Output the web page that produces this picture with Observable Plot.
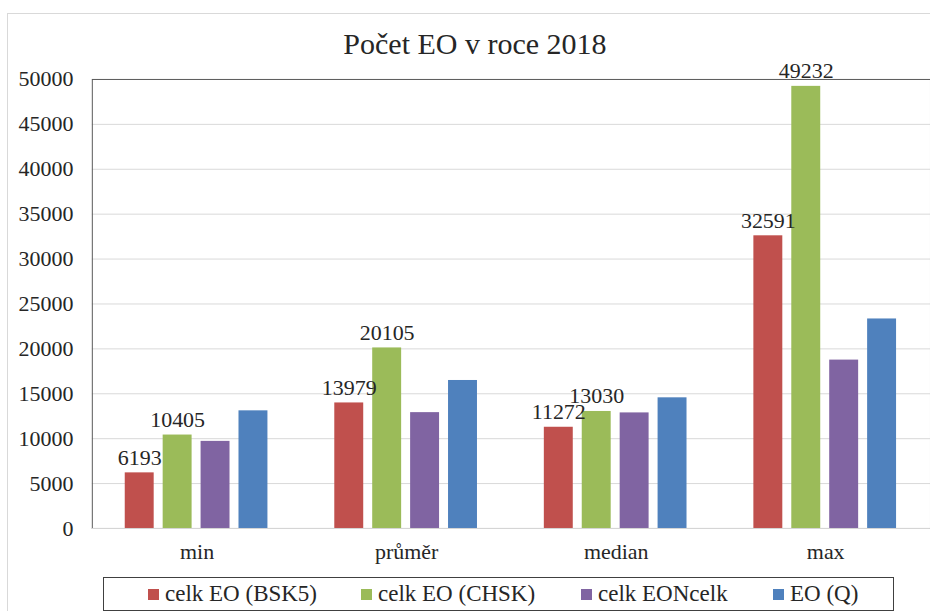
<!DOCTYPE html>
<html>
<head>
<meta charset="utf-8">
<script src="https://cdn.jsdelivr.net/npm/d3@7"></script>
<script src="https://cdn.jsdelivr.net/npm/@observablehq/plot@0.6"></script>
<style>
  html, body { margin: 0; padding: 0; background: #fff; }
  #wrap { position: relative; width: 930px; height: 611px; overflow: hidden; font-family: "Liberation Serif", "Times New Roman", serif; color: #262626; }
  #outer { position: absolute; left: 7px; top: 13px; width: 940px; height: 620px; border: 1px solid #d9d9d9; box-sizing: border-box; }
  #title { position: absolute; left: 0; width: 950px; top: 29px; text-align: center; font-size: 30px; line-height: 1; }
  .layer { position: absolute; left: 0; top: 60px; }
  #legend { position: absolute; left: 103px; top: 577px; width: 791px; height: 34px; border: 1px solid #404040; box-sizing: border-box; }
  .item { position: absolute; top: 0; height: 32px; display: flex; align-items: center; font-size: 23px; white-space: nowrap; }
  .sw { width: 11px; height: 11px; margin-right: 6px; }
</style>
</head>
<body>
<div id="wrap">
  <div id="outer"></div>
  <div id="title">Počet EO v roce 2018</div>
  <div id="back" class="layer"></div>
  <div id="front" class="layer"></div>
  <div id="legend"></div>
</div>
<script>
const categories = ["min", "průměr", "median", "max"];
const series = ["celk EO (BSK5)", "celk EO (CHSK)", "celk EONcelk", "EO (Q)"];
const bsk5 = [6193, 13979, 11272, 32591];
const chsk = [10405, 20105, 13030, 49232];
const eoncelk = [9700, 12900, 12870, 18750];
const eoq = [13100, 16480, 14550, 23330];
const labeledSeries = ["celk EO (BSK5)", "celk EO (CHSK)"];
const yTicks = [0, 5000, 10000, 15000, 20000, 25000, 30000, 35000, 40000, 45000, 50000];
const colors = ["#C0504D", "#9BBB59", "#8064A2", "#4F81BD"];
const legendLeft = [44, 257, 477, 669];

const valuesBySeries = [bsk5, chsk, eoncelk, eoq];
const data = categories.flatMap((c, i) => series.map((s, j) => ({category: c, series: s, value: valuesBySeries[j][i]})));

const common = {
  width: 932,
  height: 510,
  marginLeft: 92,
  marginRight: 0,
  marginTop: 19,
  marginBottom: 41,
  style: {fontFamily: "'Liberation Serif', 'Times New Roman', serif", fontSize: "22px", color: "#262626", background: "transparent", overflow: "visible"}
};
const groupPadding = {paddingInner: 0.314, paddingOuter: 0.157};

// Background: grid, plot border, y axis, category labels
const back = Plot.plot({
  ...common,
  x: {domain: categories, ...groupPadding, label: null},
  y: {domain: [0, 50000], label: null},
  marks: [
    Plot.gridY(yTicks, {stroke: "#d9d9d9", strokeOpacity: 1}),
    Plot.frame({stroke: "#595959"}),
    Plot.ruleY([0], {stroke: "#d9d9d9"}),
    Plot.axisY(yTicks, {tickSize: 0, tickPadding: 19, tickFormat: d3.format("d"), label: null}),
    Plot.axisX({anchor: "bottom", tickSize: 0, tickPadding: 15, label: null})
  ]
});
document.getElementById("back").appendChild(back);

// Foreground: grouped bars and value labels
const front = Plot.plot({
  ...common,
  fx: {domain: categories, ...groupPadding, axis: null, label: null},
  x: {domain: series, paddingInner: 0.23, paddingOuter: 0, axis: null},
  y: {domain: [0, 50000], axis: null, label: null},
  color: {domain: series, range: colors},
  marks: [
    Plot.barY(data, {fx: "category", x: "series", y: "value", fill: "series"}),
    Plot.text(data.filter(d => labeledSeries.includes(d.series)), {fx: "category", x: "series", y: "value", text: d => String(d.value), lineAnchor: "bottom", dy: -8, fill: "#262626", fontSize: 22})
  ]
});
document.getElementById("front").appendChild(front);

const legend = document.getElementById("legend");
series.forEach((s, i) => {
  const item = document.createElement("div");
  item.className = "item";
  item.style.left = legendLeft[i] + "px";
  const sw = document.createElement("span");
  sw.className = "sw";
  sw.style.background = colors[i];
  const t = document.createElement("span");
  t.textContent = s;
  item.appendChild(sw);
  item.appendChild(t);
  legend.appendChild(item);
});
</script>
</body>
</html>
